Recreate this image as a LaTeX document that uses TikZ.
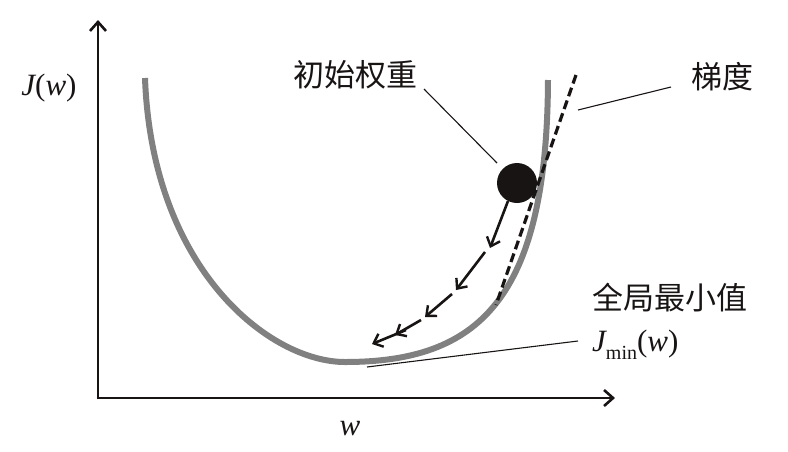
\documentclass[tikz,border=0pt]{standalone}
\usepackage{fontspec}
\newfontfamily\cjk{Noto Sans CJK SC}
\newfontfamily\tms{Liberation Serif}
\usetikzlibrary{arrows.meta}
\definecolor{curvegray}{RGB}{128,128,128}
\definecolor{ink}{RGB}{25,20,20}
\newcommand{\itv}[1]{{\itshape #1}}
\begin{document}
\begin{tikzpicture}[x=1pt,y=-1pt,
  axis/.style={line width=2.6pt,draw=ink,-{Straight Barb[length=9pt,width=16pt,line width=2.6pt]}},
  cjklabel/.style={font=\cjk\fontsize{31}{34}\selectfont,text=ink,inner sep=0pt},
  mathlabel/.style={font=\tms\fontsize{31}{34}\selectfont,text=ink,inner sep=0pt},
  pointer/.style={line width=1.1pt,draw=ink},
  stepar/.style={line width=2.6pt,draw=ink,-{Straight Barb[length=8pt,width=14pt,line width=2.4pt]}},
  ball/.style={circle,fill=ink,minimum width=40pt,inner sep=0pt}]
\useasboundingbox (0,0) rectangle (788,451);
% axes
\coordinate (O) at (98,398);
\coordinate (ytip) at (98,20);
\coordinate (xtip) at (615,398);
\draw[axis] (98,399.3) -- (ytip);
\draw[axis] (96.7,398) -- (xtip);
% curve
\draw[curvegray,line width=6pt] (145,78) .. controls (152,270) and (270,362) .. (345,362)
  .. controls (478,362) and (547,300) .. (548,80);
% tangent
\coordinate (t1) at (576,75);
\coordinate (t2) at (496,305);
\draw[ink,line width=3.2pt,dash pattern=on 9pt off 4.5pt] (t1) -- (t2);
% ball
\node[ball] (b) at (517,183) {};
% step arrows
\coordinate (s0) at (508,201);
\coordinate (s1) at (490,248);
\coordinate (s2a) at (485,252);
\coordinate (s2) at (456,290);
\coordinate (s3a) at (452,294);
\coordinate (s3) at (425,317);
\coordinate (s4a) at (421,320);
\coordinate (s4) at (395,335);
\coordinate (s5a) at (406,330);
\coordinate (s5) at (372,344);
\draw[stepar] (s0) -- (s1);
\draw[stepar] (s2a) -- (s2);
\draw[stepar] (s3a) -- (s3);
\draw[stepar] (s4a) -- (s4);
\draw[stepar] (s5a) -- (s5);
% labels
\node[mathlabel] (jw) at (49,88) {\itv{J}(\itv{w})};
\node[mathlabel] (w) at (350,429) {\itv{w}};
\node[cjklabel] (init) at (355,75) {初始权重};
\node[cjklabel] (grad) at (722,77) {梯度};
\node[cjklabel] (glob) at (670,298) {全局最小值};
\node[mathlabel,anchor=west] (jmin) at (592,345) {\itv{J}\raisebox{-0.25em}{\fontsize{20}{21}\selectfont min}(\itv{w})};
% pointer lines
\coordinate (p1a) at (424,89);
\coordinate (p1b) at (497,163);
\draw[pointer] (p1a) -- (p1b);
\coordinate (p2a) at (671,87);
\coordinate (p2b) at (578,110);
\draw[pointer] (p2a) -- (p2b);
\coordinate (p3a) at (578,341);
\coordinate (p3b) at (367,367);
\draw[pointer] (p3a) -- (p3b);
\end{tikzpicture}
\end{document}
